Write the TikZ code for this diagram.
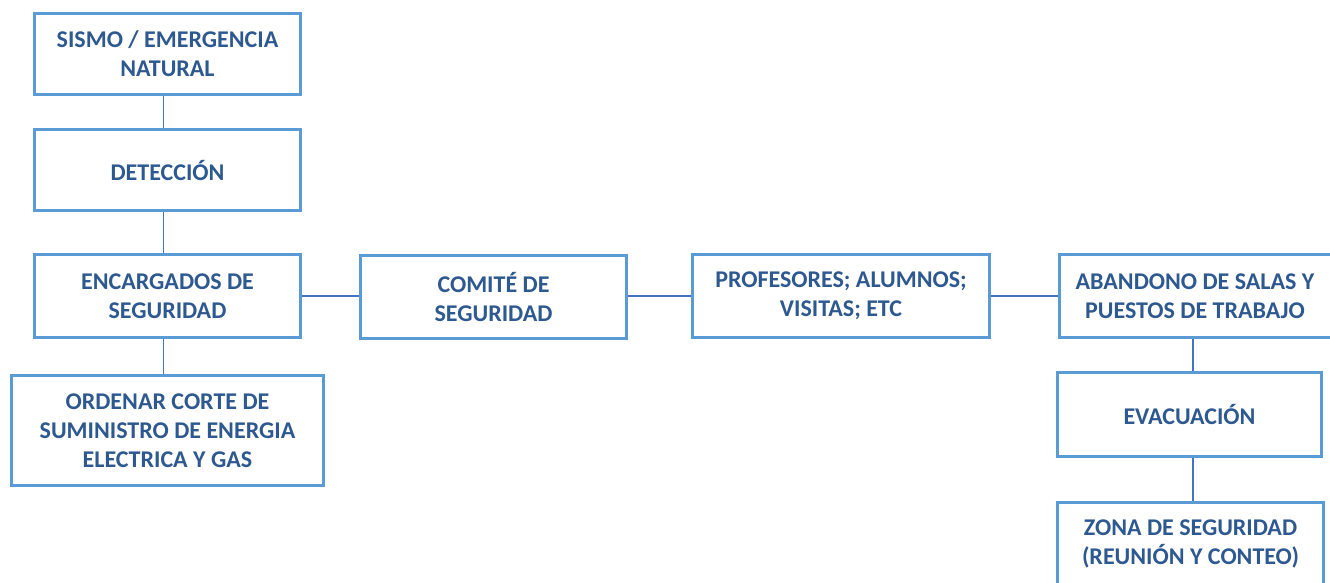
\documentclass[tikz,border=0pt]{standalone}
\usepackage{fontspec}
\setmainfont{Carlito}
\definecolor{boxline}{HTML}{5B9BD5}
\definecolor{boxtext}{HTML}{2E5990}
\definecolor{conn}{HTML}{4472C4}
\tikzset{
  flowbox/.style={draw=boxline, line width=3pt, fill=white, inner sep=0pt,
    align=center, text=boxtext,
    font=\bfseries\fontsize{24}{29}\selectfont},
  link/.style={draw=conn, line width=1.5pt}
}
\begin{document}
\begin{tikzpicture}[x=1pt,y=-1pt]
\useasboundingbox (0,0) rectangle (1330,582);
\clip (0,0) rectangle (1330,582);
\fill[white] (0,0) rectangle (1330,582);
\node[flowbox, minimum width=266pt, minimum height=81pt] (sismo) at (167.5,54) {SISMO / EMERGENCIA\\NATURAL};
\node[flowbox, minimum width=266pt, minimum height=81pt] (det) at (167.5,170) {DETECCIÓN};
\node[flowbox, minimum width=266pt, minimum height=83pt] (enc) at (167.5,296) {ENCARGADOS DE\\SEGURIDAD};
\node[flowbox, minimum width=312pt, minimum height=110pt] (ord) at (167.5,430.5) {ORDENAR CORTE DE\\SUMINISTRO DE ENERGIA\\ELECTRICA Y GAS};
\node[flowbox, minimum width=266pt, minimum height=83pt] (com) at (493.5,297) {COMITÉ DE\\SEGURIDAD};
\node[flowbox, minimum width=297pt, minimum height=83pt] (prof) at (841,296) {PROFESORES; ALUMNOS;\\VISITAS; ETC};
\node[flowbox, minimum width=272pt, minimum height=83pt] (aban) at (1195,296) {ABANDONO DE SALAS Y\\PUESTOS DE TRABAJO};
\node[flowbox, minimum width=264pt, minimum height=84pt] (evac) at (1189.5,414.5) {EVACUACIÓN};
\node[flowbox, minimum width=266pt, minimum height=83pt] (zona) at (1190.5,544) {ZONA DE SEGURIDAD\\(REUNIÓN Y CONTEO)};
\draw[link] ([xshift=-4pt]sismo.south) -- ([xshift=-4pt]det.north);
\draw[link] ([xshift=-4pt]det.south) -- ([xshift=-4pt]enc.north);
\draw[link] ([xshift=-4pt]enc.south) -- ([xshift=-4pt]ord.north);
\draw[link] (enc.east) -- (com.west |- enc.east);
\draw[link] (com.east |- prof.west) -- (prof.west);
\draw[link] (prof.east) -- (aban.west);
\draw[link] ([xshift=-2pt]aban.south) -- ([xshift=-2pt]aban.south |- evac.north);
\draw[link] ([xshift=3.5pt]evac.south) -- ([xshift=3.5pt]evac.south |- zona.north);
\end{tikzpicture}
\end{document}
